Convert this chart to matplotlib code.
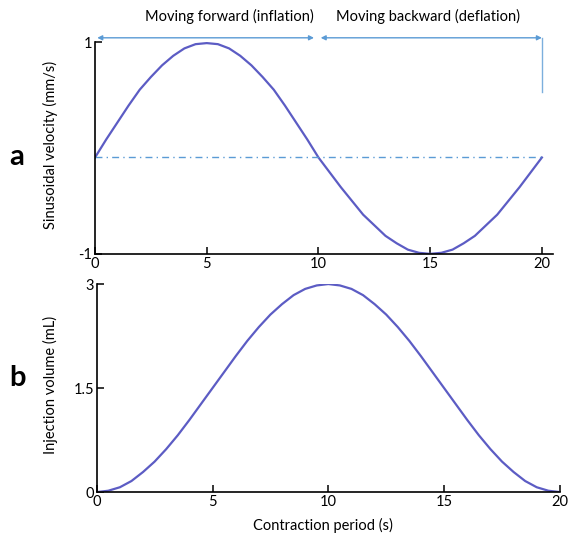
import numpy as np
import matplotlib
matplotlib.use('Agg')
import matplotlib.pyplot as plt

plt.rcParams['font.family'] = ['Lato', 'DejaVu Sans']

# time points (s), read every 0.5 s off the picture
t = [0.5 * k for k in range(41)]

# panel a: sinusoidal velocity (axis units)
velocity = [-0.09, 0.08, 0.24, 0.40, 0.55, 0.67, 0.78, 0.87, 0.94, 0.98, 0.99,
            0.98, 0.94, 0.87, 0.78, 0.67, 0.55, 0.40, 0.24, 0.08, -0.09,
            -0.23, -0.37, -0.50, -0.63, -0.73, -0.83, -0.90, -0.96, -0.99, -1.00,
            -0.99, -0.96, -0.90, -0.83, -0.73, -0.63, -0.50, -0.37, -0.23, -0.09]
zero_level = -0.09

# panel b: injection volume (mL)
volume = [0.00, 0.02, 0.07, 0.16, 0.29, 0.44, 0.62, 0.82, 1.04, 1.27, 1.50,
          1.73, 1.96, 2.18, 2.38, 2.56, 2.71, 2.84, 2.93, 2.98, 3.00,
          2.98, 2.93, 2.84, 2.71, 2.56, 2.38, 2.18, 1.96, 1.73, 1.50,
          1.27, 1.04, 0.82, 0.62, 0.44, 0.29, 0.16, 0.07, 0.02, 0.00]

xticks = [0, 5, 10, 15, 20]
phase_labels = ['Moving forward (inflation)', 'Moving backward (deflation)']

curve_col = '#5c5cc4'
guide_col = '#5b9bd5'

fig = plt.figure(figsize=(5.69, 5.39), dpi=100)
ax1 = fig.add_axes([0.167, 0.529, 0.805, 0.393])
ax2 = fig.add_axes([0.170, 0.087, 0.814, 0.386])

for ax in (ax1, ax2):
    ax.spines['top'].set_visible(False)
    ax.spines['right'].set_visible(False)
    for s in ('left', 'bottom'):
        ax.spines[s].set_linewidth(1.2)
    ax.tick_params(direction='in', length=5, width=1.1, labelsize=10.5, pad=2)

# panel a
ax1.plot(t, velocity, color=curve_col, lw=1.6)
ax1.plot([0, 20], [zero_level, zero_level], color=guide_col, lw=1.0,
         ls=(0, (5, 3, 1, 3)))
ax1.set_xlim(0, 20.5)
ax1.set_ylim(-1, 1)
ax1.set_xticks(xticks)
ax1.set_yticks([-1, 1])
ax1.set_yticklabels(['-1', '1'])

# phase arrows
arrow_y = 1.04
for x0, x1 in [(0.1, 9.8), (10.1, 20.0)]:
    ax1.annotate('', xy=(x1, arrow_y), xytext=(x0, arrow_y),
                 arrowprops=dict(arrowstyle='<|-|>', color=guide_col, lw=1.0,
                                 mutation_scale=7, shrinkA=0, shrinkB=0),
                 annotation_clip=False)
ax1.plot([20, 20], [arrow_y, 0.53], color=guide_col, lw=1.0, alpha=0.8,
         clip_on=False)
ax1.text(6.0, 1.24, phase_labels[0], ha='center', va='center', fontsize=10.5,
         clip_on=False)
ax1.text(14.9, 1.24, phase_labels[1], ha='center', va='center', fontsize=10.5,
         clip_on=False)

# panel b
ax2.plot(t, volume, color=curve_col, lw=1.6)
ax2.set_xlim(0, 20)
ax2.set_ylim(0, 3)
ax2.set_xticks(xticks)
ax2.set_yticks([0, 1.5, 3])
ax2.set_yticklabels(['0', '1.5', '3'])

# labels
fig.text(0.088, 0.731, 'Sinusoidal velocity (mm/s)', rotation=90,
         ha='center', va='center', fontsize=10.5)
fig.text(0.088, 0.286, 'Injection volume (mL)', rotation=90,
         ha='center', va='center', fontsize=10.5)
fig.text(0.568, 0.026, 'Contraction period (s)', ha='center', va='center',
         fontsize=10.5)
fig.text(0.030, 0.709, 'a', ha='center', va='center', fontsize=21,
         fontweight='bold')
fig.text(0.030, 0.299, 'b', ha='center', va='center', fontsize=21,
         fontweight='bold')

fig.savefig('out.png', dpi=100)
